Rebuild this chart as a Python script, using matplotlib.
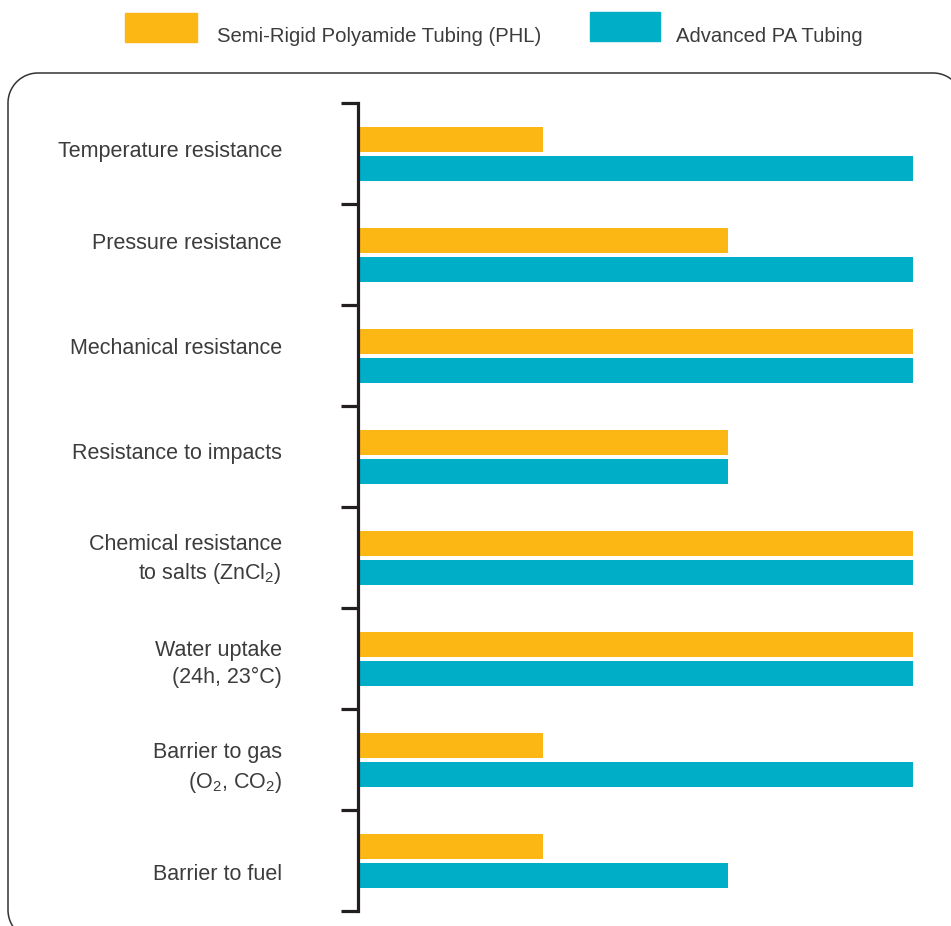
import matplotlib as mpl
mpl.use('Agg')
import matplotlib.pyplot as plt
import numpy as np

plt.rcParams['font.family'] = ['Liberation Sans', 'DejaVu Sans']
plt.rcParams['mathtext.fontset'] = 'custom'
plt.rcParams['mathtext.rm'] = 'Liberation Sans'

categories = ['Temperature resistance',
              'Pressure resistance',
              'Mechanical resistance',
              'Resistance to impacts',
              'Chemical resistance\nto salts (ZnCl$_\\mathrm{2}$)',
              'Water uptake\n(24h, 23°C)',
              'Barrier to gas\n(O$_\\mathrm{2}$, CO$_\\mathrm{2}$)',
              'Barrier to fuel']
phl = [1, 2, 3, 2, 3, 3, 1, 1]
advanced = [3, 3, 3, 2, 3, 3, 3, 2]
series_names = ['Semi-Rigid Polyamide Tubing (PHL)', 'Advanced PA Tubing']

# small vertical nudges of the labels (fraction of a category band)
label_nudge = [-0.015, -0.105, -0.065, -0.025, 0.025, 0.055, 0.09, 0.14]

orange = '#fdb714'
teal = '#00aec7'
dark = '#231f20'
text_col = '#3c3c3c'

W, H = 951, 926
fig = plt.figure(figsize=(W / 100, H / 100), dpi=100)

def fx(px):
    return px / W

def fy(py):
    return 1 - py / H

# rounded frame, cropped at right / bottom like the original
r = 30
left, top, right, bottom = 8, 73, 963, 940
t = np.linspace(0, np.pi / 2, 30)
xs = np.concatenate([left + r - r * np.cos(t),            # top-left corner
                     right - r + r * np.sin(t),           # top-right corner
                     right - r + r * np.cos(t),           # bottom-right corner
                     left + r - r * np.sin(t)])           # bottom-left corner
ys = np.concatenate([top + r - r * np.sin(t),
                     top + r - r * np.cos(t),
                     bottom - r + r * np.sin(t),
                     bottom - r + r * np.cos(t)])
fig.add_artist(plt.Polygon(np.column_stack([fx(xs), fy(ys)]), closed=True,
                           fill=False, transform=fig.transFigure,
                           edgecolor='#333333', linewidth=1.1))

ax = fig.add_axes([fx(357.5), fy(911), fx(913) - fx(357.5), fy(103) - fy(911)])

y = np.arange(len(categories))
ax.barh(y - 0.135, phl, height=0.245, color=orange)
ax.barh(y + 0.152, advanced, height=0.245, color=teal)

ax.set_xlim(0, 3)
ax.set_ylim(len(categories) - 0.5, -0.5)

for s in ['top', 'right', 'bottom']:
    ax.spines[s].set_visible(False)
ax.spines['left'].set_color(dark)
ax.spines['left'].set_linewidth(2.3)
ax.spines['left'].set_capstyle('projecting')

ax.set_xticks([])
ax.set_yticks(np.arange(len(categories) + 1) - 0.5)
ax.set_yticklabels([])
ax.tick_params(axis='y', which='major', length=12.5, width=2.3, color=dark)

lab_x = -75.5 / (913 - 357.5)
for yi, lab, dn in zip(y, categories, label_nudge):
    ax.text(lab_x, yi + dn, lab, transform=ax.get_yaxis_transform(),
            ha='right', va='center', fontsize=15.5, color=text_col,
            linespacing=1.35)

# legend
for x0, x1, y0, y1, c, name, tx in [(125, 197, 13, 42, orange, series_names[0], 217),
                                    (590, 660, 12, 41, teal, series_names[1], 676)]:
    fig.add_artist(plt.Rectangle((fx(x0), fy(y1)), fx(x1) - fx(x0), fy(y0) - fy(y1),
                                 transform=fig.transFigure, color=c))
    fig.text(fx(tx), fy(36.5), name, fontsize=14.6, color=text_col, va='center', ha='left')

fig.savefig('out.png', dpi=100)
